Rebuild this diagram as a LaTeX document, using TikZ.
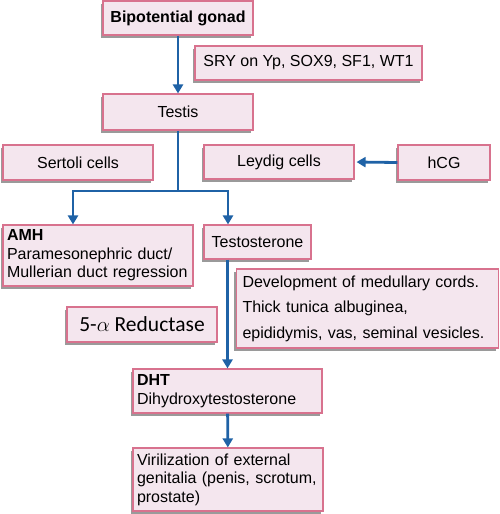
\documentclass[tikz,border=0pt]{standalone}
\usepackage{fontspec}
\setmainfont{Liberation Sans}
\newfontfamily\carlito{Carlito}
\usetikzlibrary{shadows,arrows.meta}
\definecolor{boxfill}{HTML}{F4E6EE}
\definecolor{boxline}{HTML}{D8728E}
\definecolor{arr}{HTML}{1F62A6}
\definecolor{shad}{HTML}{9A9A9A}
\hyphenpenalty=10000
\begin{document}
\begin{tikzpicture}[x=1pt,y=-1pt,
 box/.style={draw=boxline, fill=boxfill, line width=1.1pt,
   drop shadow={shadow xshift=-2.5pt, shadow yshift=-2.5pt, fill=shad, opacity=1},
   inner sep=0pt, font=\fontsize{16}{18.5}\selectfont, anchor=center},
 lbox/.style={box, align=left, inner xsep=4pt},
 arrow/.style={draw=arr, line width=2.8pt, -{Triangle[length=9pt,width=10pt]}},
 line/.style={draw=arr, line width=2.8pt}]
\useasboundingbox (0,0) rectangle (500,514);

\node[box, minimum width=150pt, minimum height=34pt] (bip) at (178,18) {\bfseries Bipotential gonad};
\node[box, minimum width=227pt, minimum height=34pt] (sry) at (308.5,63) {SRY on Yp, SOX9, SF1, WT1};
\node[box, minimum width=150pt, minimum height=36pt] (testis) at (178,112) {Testis};
\node[box, minimum width=150pt, minimum height=35pt] (sertoli) at (78,162.5) {Sertoli cells};
\node[box, minimum width=150pt, minimum height=34pt] (leydig) at (279,162) {Leydig cells};
\node[box, minimum width=92pt, minimum height=35pt] (hcg) at (444,162.5) {hCG};
\node[lbox, text width=182pt, minimum height=61pt] (amh) at (98,255.5)
  {\textbf{AMH}\\Paramesonephric duct/\\Mullerian duct regression};
\node[box, minimum width=107pt, minimum height=34pt] (testo) at (257.5,242) {Testosterone};
\node[lbox, text width=250pt, minimum height=79pt, inner xsep=6pt, font=\fontsize{16}{25.5}\selectfont] (dev) at (367.5,308.5)
  {Development of medullary cords.\\Thick tunica albuginea,\\epididymis, vas, seminal vesicles.};
\node[box, minimum width=150pt, minimum height=35pt, font=\carlito\fontsize{21.5}{24}\selectfont] (red) at (142,324.5) {5-$\alpha$ Reductase};
\node[lbox, text width=181pt, minimum height=44pt] (dht) at (227.5,391)
  {\textbf{DHT}\\Dihydroxytestosterone};
\node[lbox, text width=182pt, minimum height=63pt] (vir) at (228,479.5)
  {Virilization of external\\genitalia (penis, scrotum,\\prostate)};

\coordinate (jl) at (73,191);
\coordinate (jr) at (228,191);
\draw[arrow] (bip) -- (testis);
\draw[line] (testis.south) -- (testis.south |- jl);
\draw[arrow] (testis.south |- jl) -| (jl |- amh.north);
\draw[arrow] (testis.south |- jl) -| (jr |- testo.north);
\draw[arrow, shorten >=2pt] (hcg.west) -- (leydig.east);
\draw[arrow] (testo.south -| dht.north) -- (dht.north);
\draw[arrow] (dht) -- (vir);
\end{tikzpicture}
\end{document}
